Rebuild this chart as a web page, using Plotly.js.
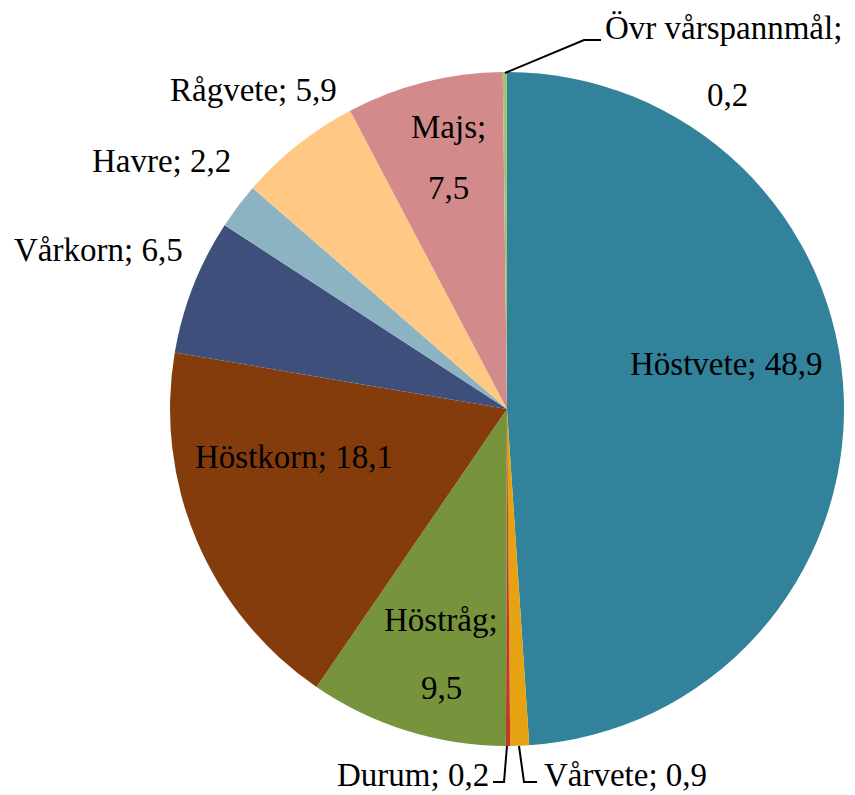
<!DOCTYPE html>
<html>
<head>
<meta charset="utf-8">
<script src="https://cdn.plot.ly/plotly-3.0.1.min.js"></script>
<style>html,body{margin:0;padding:0;background:#fff;}#chart{width:855px;height:795px;}</style>
</head>
<body>
<div id="chart"></div>
<script>
// Data
var crops = ['Höstvete', 'Vårvete', 'Durum', 'Höstråg', 'Höstkorn', 'Vårkorn', 'Havre', 'Rågvete', 'Majs', 'Övr vårspannmål'];
var shares = [48.9, 0.9, 0.2, 9.5, 18.1, 6.5, 2.2, 5.9, 7.5, 0.2];
var shareLabels = ['48,9', '0,9', '0,2', '9,5', '18,1', '6,5', '2,2', '5,9', '7,5', '0,2'];
var colors = ['#31829A', '#E5A312', '#C0392B', '#77933C', '#843C0C', '#3F4F7C', '#8CB3C1', '#FFC985', '#D38A8A', '#A3C27A'];

var W = 855, H = 795;
function px(x) { return x / W; }
function py(y) { return 1 - y / H; }

// label placement (pixel positions, layout only)
var labelPos = {
  'Höstvete': {x: 726, y: 364, lines: 1},
  'Vårvete': {x: 542, y: 775, lines: 1, anchor: 'left'},
  'Durum': {x: 491, y: 775, lines: 1, anchor: 'right'},
  'Höstråg': {x: 441, y: 620, lines: 2, y2: 688},
  'Höstkorn': {x: 294, y: 457, lines: 1},
  'Vårkorn': {x: 98, y: 250, lines: 1},
  'Havre': {x: 161, y: 161, lines: 1},
  'Rågvete': {x: 253, y: 90, lines: 1},
  'Majs': {x: 448, y: 127, lines: 2, y2: 188},
  'Övr vårspannmål': {x: 723, y: 28, lines: 2, y2: 95, x2: 727}
};

var font = {family: 'Liberation Serif, Times New Roman, serif', size: 33, color: '#000'};
var annotations = [];
crops.forEach(function (c, i) {
  var p = labelPos[c];
  if (p.lines === 1) {
    annotations.push({
      x: px(p.x), y: py(p.y), xref: 'paper', yref: 'paper',
      text: c + '; ' + shareLabels[i], showarrow: false, font: font,
      xanchor: p.anchor || 'center', yanchor: 'middle'
    });
  } else {
    annotations.push({
      x: px(p.x), y: py(p.y), xref: 'paper', yref: 'paper',
      text: c + ';', showarrow: false, font: font, xanchor: 'center', yanchor: 'middle'
    });
    annotations.push({
      x: px(p.x2 || p.x), y: py(p.y2), xref: 'paper', yref: 'paper',
      text: shareLabels[i], showarrow: false, font: font, xanchor: 'center', yanchor: 'middle'
    });
  }
});

function pathOf(pts) {
  return pts.map(function (p, k) { return (k ? 'L' : 'M') + px(p[0]) + ',' + py(p[1]); }).join(' ');
}
var lineStyle = {color: '#000', width: 2};
var shapes = [
  {type: 'path', xref: 'paper', yref: 'paper', path: pathOf([[505, 73], [584, 40], [601, 40]]), line: lineStyle},
  {type: 'path', xref: 'paper', yref: 'paper', path: pathOf([[507, 746], [504, 782], [493, 782]]), line: lineStyle},
  {type: 'path', xref: 'paper', yref: 'paper', path: pathOf([[519, 746], [524, 782], [537, 782]]), line: lineStyle}
];

var trace = {
  type: 'pie',
  labels: crops,
  values: shares,
  sort: false,
  direction: 'clockwise',
  rotation: 0,
  textinfo: 'none',
  hoverinfo: 'label+value',
  marker: {colors: colors, line: {width: 0}},
  domain: {x: [px(170), px(844)], y: [py(746), py(72)]}
};

var layout = {
  width: W, height: H,
  margin: {l: 0, r: 0, t: 0, b: 0},
  showlegend: false,
  paper_bgcolor: '#fff',
  annotations: annotations,
  shapes: shapes
};

Plotly.newPlot('chart', [trace], layout, {displayModeBar: false, staticPlot: true});
</script>
</body>
</html>
